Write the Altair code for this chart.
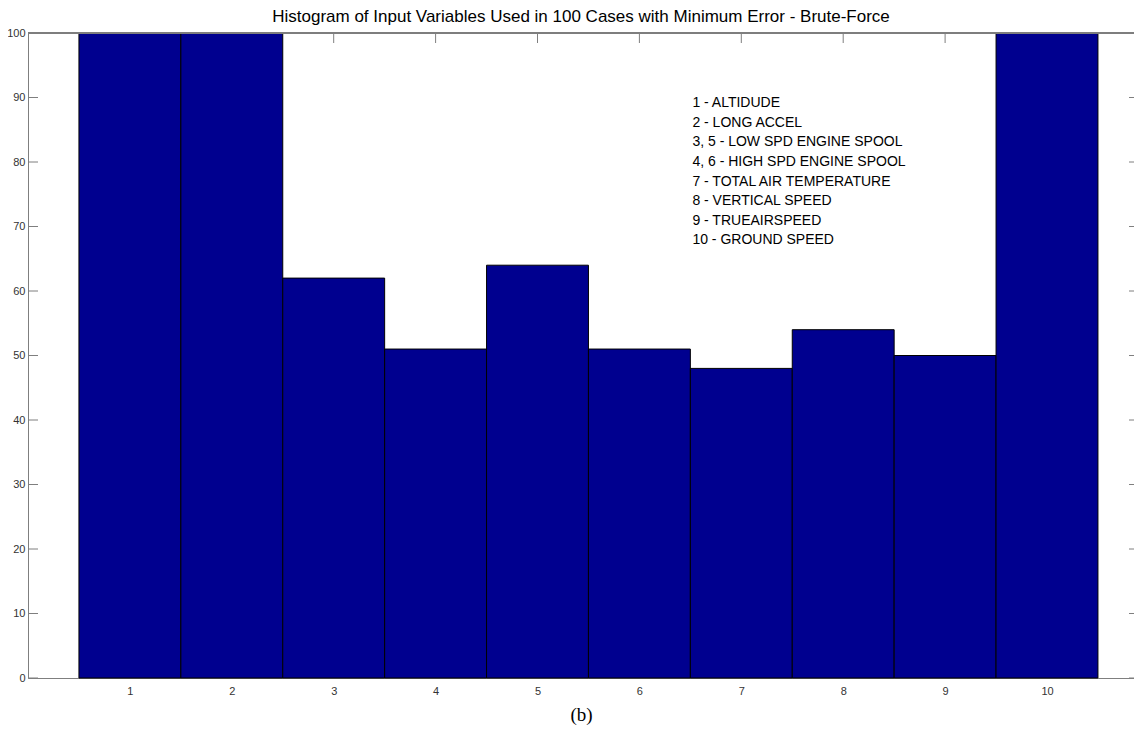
import altair as alt
import pandas as pd

categories = [1, 2, 3, 4, 5, 6, 7, 8, 9, 10]
counts = [100, 100, 62, 51, 64, 51, 48, 54, 50, 100]
y_ticks = [0, 10, 20, 30, 40, 50, 60, 70, 80, 90, 100]
legend_lines = [
    "1 - ALTIDUDE",
    "2 - LONG ACCEL",
    "3, 5 - LOW SPD ENGINE SPOOL",
    "4, 6 - HIGH SPD ENGINE SPOOL",
    "7 - TOTAL AIR TEMPERATURE",
    "8 - VERTICAL SPEED",
    "9 - TRUEAIRSPEED",
    "10 - GROUND SPEED",
]

W = 1106
H = 645
X_MAX = W / 101.9
FONT = "Liberation Sans"
AXIS_GRAY = "#7f7f7f"

bars_df = pd.DataFrame({
    "cat": categories,
    "count": counts,
})
bars_df["left"] = bars_df["cat"] - 0.5
bars_df["right"] = bars_df["cat"] + 0.5

xscale = alt.Scale(domain=[0, X_MAX], nice=False, zero=False)
yscale = alt.Scale(domain=[0, 100], nice=False)

base = alt.Chart(bars_df)

bars = base.mark_rect(color="#00008F", stroke="#000000", strokeWidth=1).encode(
    x=alt.X("left:Q", scale=xscale,
            axis=alt.Axis(values=categories, ticks=False, labelPadding=7,
                          labelFontSize=11, labelColor="#333333", labelFont=FONT,
                          domainColor=AXIS_GRAY, grid=False, format="d",
                          title="(b)", titleFont="Liberation Serif",
                          titleFontSize=19, titleFontWeight="normal",
                          titleColor="#000000", titlePadding=9)),
    x2="right:Q",
    y=alt.Y("count:Q", scale=yscale,
            axis=alt.Axis(values=y_ticks, ticks=False, labelPadding=3,
                          labelFontSize=11, labelColor="#333333", labelFont=FONT,
                          domainColor=AXIS_GRAY, grid=False, title=None)),
    y2=alt.datum(0),
)

ytick_df = pd.DataFrame({"v": y_ticks})
left_ticks = alt.Chart(ytick_df).mark_rule(color=AXIS_GRAY, strokeWidth=1).encode(
    y=alt.Y("v:Q", scale=yscale),
    x=alt.value(0), x2=alt.value(10),
)
right_ticks = alt.Chart(ytick_df).mark_rule(color=AXIS_GRAY, strokeWidth=1).encode(
    y=alt.Y("v:Q", scale=yscale),
    x=alt.value(W - 5), x2=alt.value(W),
)
xtick_df = pd.DataFrame({"c": categories})
top_ticks = alt.Chart(xtick_df).mark_rule(color=AXIS_GRAY, strokeWidth=1).encode(
    x=alt.X("c:Q", scale=xscale),
    y=alt.value(0), y2=alt.value(10),
)
top_line = alt.Chart(xtick_df).mark_rule(color=AXIS_GRAY, strokeWidth=1).encode(
    x=alt.value(0), x2=alt.value(W), y=alt.value(0),
)

legend = alt.Chart(pd.DataFrame({"t": ["\n".join(legend_lines)]})).mark_text(
    align="left", baseline="top", fontSize=14, font=FONT, color="#000000",
    lineBreak="\n", lineHeight=19.6,
).encode(
    x=alt.datum(6.52),
    y=alt.datum(90.2),
    text="t:N",
)

chart = alt.layer(left_ticks, right_ticks, top_ticks, bars, top_line, legend).properties(
    width=W,
    height=H,
    title=alt.TitleParams(
        "Histogram of Input Variables Used in 100 Cases with Minimum Error - Brute-Force",
        fontSize=17, fontWeight="normal", font=FONT, color="#000000",
        anchor="middle", offset=1,
    ),
    autosize=alt.AutoSizeParams(type="none"),
    padding={"left": 20, "top": 25, "right": 0, "bottom": 50},
).configure_view(stroke=None).configure(background="white")

chart.save("out.html", embed_options={"renderer": "svg", "actions": False})
